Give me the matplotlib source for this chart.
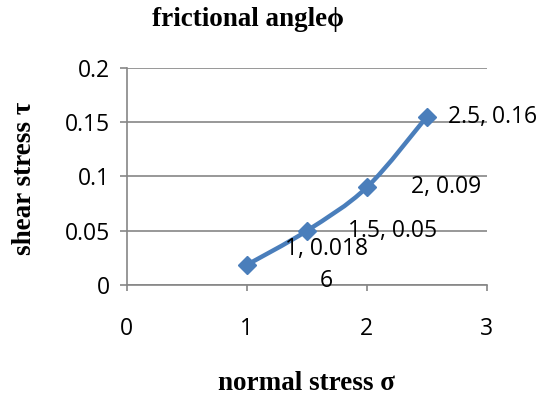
import matplotlib
matplotlib.use('Agg')
import matplotlib.pyplot as plt
import numpy as np
from matplotlib.path import Path
from matplotlib.patches import PathPatch

# data
normal_stress = [1.0, 1.5, 2.0, 2.5]
shear_stress = [0.0186, 0.05, 0.09, 0.155]
point_labels = ['1, 0.018\n6', '1.5, 0.05', '2, 0.09', '2.5, 0.16']
label_offsets = [(38, 0), (41, 0), (44, 0), (21, 0)]  # pixels, left edge of text

blue = '#4A7EBB'
grid_gray = '#868686'
tick_font = 'Open Sans'
serif = 'Liberation Serif'

fig = plt.figure(figsize=(5.47, 3.97), dpi=100)
ax = fig.add_axes([0.232, 0.282, 0.658, 0.547])


def smooth_path(xs, ys):
    # Catmull-Rom style bezier, like Excel's smoothed line
    pts = np.column_stack([xs, ys])
    n = len(pts)
    verts = [pts[0]]
    codes = [Path.MOVETO]
    for i in range(n - 1):
        p0 = pts[i - 1] if i > 0 else pts[i]
        p1 = pts[i]
        p2 = pts[i + 1]
        p3 = pts[i + 2] if i + 2 < n else pts[i + 1]
        c1 = p1 + (p2 - p0) / 6.0
        c2 = p2 - (p3 - p1) / 6.0
        verts += [c1, c2, p2]
        codes += [Path.CURVE4] * 3
    return Path(verts, codes)


ax.add_patch(PathPatch(smooth_path(normal_stress, shear_stress), facecolor='none',
                       edgecolor=blue, lw=3.2, capstyle='round', zorder=3))
ax.plot(normal_stress, shear_stress, linestyle='none', marker='D', markersize=9.5,
        color=blue, zorder=4)

for x, y, lab, off in zip(normal_stress, shear_stress, point_labels, label_offsets):
    ax.annotate(lab, (x, y), xytext=off, textcoords='offset pixels',
                ha='left', va='center', multialignment='center',
                fontsize=16.5, family=tick_font, linespacing=1.45, zorder=5,
                annotation_clip=False)

ax.set_xlim(0, 3)
ax.set_ylim(0, 0.2)
ax.set_xticks([0, 1, 2, 3])
ax.set_xticklabels(['0', '1', '2', '3'])
ax.set_yticks([0, 0.05, 0.1, 0.15, 0.2])
ax.set_yticklabels(['0', '0.05', '0.1', '0.15', '0.2'])

ax.yaxis.grid(True, color=grid_gray, lw=1.2)
ax.set_axisbelow(True)
for s in ['top', 'right']:
    ax.spines[s].set_visible(False)
for s in ['left', 'bottom']:
    ax.spines[s].set_color(grid_gray)
    ax.spines[s].set_linewidth(1.2)

ax.tick_params(axis='x', direction='out', length=4, width=1.2, color=grid_gray,
               pad=19, labelsize=16.5)
ax.tick_params(axis='y', direction='out', length=5, width=1.2, color=grid_gray,
               pad=7, labelsize=16.5)
for t in ax.get_xticklabels() + ax.get_yticklabels():
    t.set_family(tick_font)

fig.text(0.453, 0.95, 'frictional angle\u03d5', ha='center', va='center',
         fontsize=19.5, fontweight='bold', family=serif)
fig.text(0.56, 0.035, 'normal stress \u03c3', ha='center', va='center',
         fontsize=19.5, fontweight='bold', family=serif)
fig.text(0.045, 0.55, 'shear stress \u03c4', ha='center', va='center', rotation=90,
         fontsize=19.5, fontweight='bold', family=serif)

plt.savefig('out.png', dpi=100)
